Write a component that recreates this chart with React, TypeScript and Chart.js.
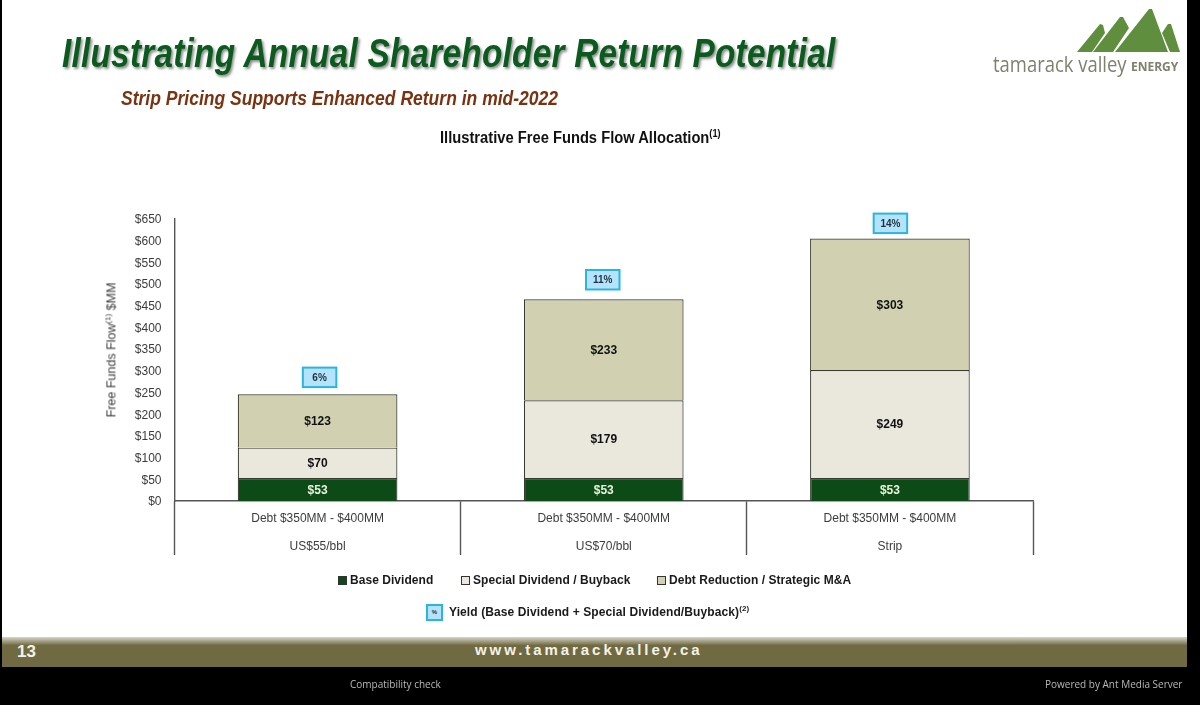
import React, { useEffect, useRef } from "react";
import { Chart, registerables } from "chart.js";

Chart.register(...registerables);

const debtLabel = "Debt $350MM - $400MM";
const categories = ["US$55/bbl", "US$70/bbl", "Strip"];
const baseDividend = [53, 53, 53];
const specialDividend = [70, 179, 249];
const debtReduction = [123, 233, 303];
const yields = ["6%", "11%", "14%"];
const yieldAnchor = [285, 510, 640];
const seriesNames = ["Base Dividend", "Special Dividend / Buyback", "Debt Reduction / Strategic M&A"];

const DARK = "#0c4a18";
const MID = "#eae8dc";
const LIGHT = "#d1d1b2";
const FONT = '"Liberation Sans", Arial, sans-serif';
const BOX_NUDGE = [2, -1, 0.5];

const overlayPlugin = {
  id: "overlay",
  afterDatasetsDraw(chart: any) {
    const { ctx } = chart;
    const yScale = chart.scales.y;
    ctx.save();
    ctx.textAlign = "center";
    ctx.textBaseline = "middle";
    chart.data.datasets.forEach((ds: any, di: number) => {
      const meta = chart.getDatasetMeta(di);
      meta.data.forEach((bar: any, i: number) => {
        const mid = (bar.y + bar.base) / 2 + 1;
        ctx.font = `bold 12px ${FONT}`;
        ctx.fillStyle = di === 0 ? "#eaf3dc" : "#111111";
        ctx.fillText(`$${ds.data[i]}`, bar.x, mid);
      });
    });
    const top = chart.getDatasetMeta(2);
    top.data.forEach((bar: any, i: number) => {
      const cy = yScale.getPixelForValue(yieldAnchor[i]);
      const cx = bar.x + BOX_NUDGE[i];
      const w = 33.5;
      const h = 19.5;
      ctx.fillStyle = "#b5e3fb";
      ctx.strokeStyle = "#2ab4e2";
      ctx.lineWidth = 2;
      ctx.fillRect(cx - w / 2, cy - h / 2, w, h);
      ctx.strokeRect(cx - w / 2, cy - h / 2, w, h);
      ctx.font = `bold 10px ${FONT}`;
      ctx.fillStyle = "#1b3340";
      ctx.fillText(yields[i], cx, cy + 0.5);
    });
    ctx.restore();
  },
};

const abs = (style: React.CSSProperties): React.CSSProperties => ({
  position: "absolute",
  whiteSpace: "nowrap",
  fontFamily: FONT,
  ...style,
});

function LegendItem({ color, left, label }: { color: string; left: number; label: string }) {
  return (
    <>
      <div style={abs({ left, top: 576, width: 7, height: 7, background: color, border: "1px solid #333" })} />
      <div style={abs({ left: left + 12, top: 573, fontSize: 12, fontWeight: 700, color: "#1a1a1a", letterSpacing: 0.05 })}>{label}</div>
    </>
  );
}

export default function App() {
  const ref = useRef<HTMLCanvasElement>(null);
  useEffect(() => {
    document.body.style.margin = "0";
    document.body.style.background = "#000";
    const chart = new Chart(ref.current!, {
      type: "bar",
      data: {
        labels: categories.map((c) => [debtLabel, c]),
        datasets: [
          { label: seriesNames[0], data: baseDividend, backgroundColor: DARK },
          { label: seriesNames[1], data: specialDividend, backgroundColor: MID },
          { label: seriesNames[2], data: debtReduction, backgroundColor: LIGHT },
        ].map((d) => ({
          ...d,
          borderColor: "#3a3a30",
          borderWidth: 1.2,
          categoryPercentage: 1,
          barPercentage: 0.558,
        })),
      },
      options: {
        responsive: false,
        animation: false,
        layout: { padding: { left: 0, top: 219, right: 167, bottom: 0 } },
        plugins: { legend: { display: false }, tooltip: { enabled: false }, title: { display: false } },
        scales: {
          x: {
            stacked: true,
            offset: true,
            border: { color: "#555555", width: 1.4 },
            grid: { display: true, offset: true, drawOnChartArea: false, drawTicks: true, tickLength: 54, tickColor: "#555555", tickWidth: 1.4 },
            ticks: {
              color: "#3c3c3c",
              font: { family: FONT, size: 12, lineHeight: 28 / 12 },
              padding: -50,
              maxRotation: 0,
              autoSkip: false,
            },
            afterFit: (s: any) => {
              s.height = 705 - 501;
            },
          },
          y: {
            stacked: true,
            min: 0,
            max: 650,
            border: { color: "#555555", width: 1.4 },
            grid: { display: false },
            ticks: {
              stepSize: 50,
              autoSkip: false,
              color: "#3c3c3c",
              font: { family: FONT, size: 12 },
              padding: 5,
              labelOffset: 1,
              callback: (v: any) => `$${v}`,
            },
            afterFit: (s: any) => {
              s.width = 174.5;
            },
          },
        },
      },
      plugins: [overlayPlugin],
    } as any);
    return () => chart.destroy();
  }, []);

  const squeeze = (k: number): React.CSSProperties => ({ transform: `scaleX(${k})`, transformOrigin: "left center" });

  return (
    <div style={{ position: "absolute", left: 0, top: 0, width: 1200, height: 705, background: "#000", overflow: "hidden" }}>
      <div style={{ position: "absolute", left: 2, top: 0, width: 1185, height: 667, background: "#fff" }} />
      <canvas ref={ref} width={1200} height={705} style={{ position: "absolute", left: 0, top: 0, display: "block" }} />

      <div style={abs({ left: 62, top: 31, fontSize: 40, fontWeight: 700, fontStyle: "italic", color: "#0b5a1e", textShadow: "2px 2px 3px rgba(0,0,0,0.45)", letterSpacing: 0.3, ...squeeze(0.833) })}>
        Illustrating Annual Shareholder Return Potential
      </div>
      <div style={abs({ left: 121, top: 87, fontSize: 20, fontWeight: 700, fontStyle: "italic", color: "#7a3210", ...squeeze(0.876) })}>
        Strip Pricing Supports Enhanced Return in mid-2022
      </div>
      <div style={abs({ left: 440, top: 128, fontSize: 16, fontWeight: 700, color: "#111", ...squeeze(0.92) })}>
        Illustrative Free Funds Flow Allocation<sup style={{ fontSize: 10 }}>(1)</sup>
      </div>

      <div style={abs({ left: 110.5, top: 349.5, fontSize: 12.5, color: "#3c3c3c", transform: "translate(-50%, -50%) rotate(-90deg)" })}>
        Free Funds Flow<sup style={{ fontSize: 8 }}>(1)</sup> $MM
      </div>

      <LegendItem color={DARK} left={338} label={seriesNames[0]} />
      <LegendItem color={MID} left={461} label={seriesNames[1]} />
      <LegendItem color={LIGHT} left={657} label={seriesNames[2]} />
      <div style={abs({ left: 426, top: 604, width: 13, height: 13, background: "#b5e3fb", border: "2px solid #2ab4e2", fontSize: 6, fontWeight: 700, textAlign: "center", lineHeight: "13px", color: "#1b3340" })}>%</div>
      <div style={abs({ left: 449, top: 604, fontSize: 12, fontWeight: 700, color: "#1a1a1a", letterSpacing: 0.1 })}>
        Yield (Base Dividend + Special Dividend/Buyback)<sup style={{ fontSize: 8 }}>(2)</sup>
      </div>

      <svg style={{ position: "absolute", left: 1070, top: 0 }} width={115} height={56} viewBox="1070 0 115 56">
        <polygon points="1077,52 1100,24 1103,25 1105,33 1092,52" fill="#5f8f3e" />
        <polygon points="1093,52 1120,17 1123,17 1129,28 1113,52" fill="#5f8f3e" />
        <polygon points="1115,52 1149,9 1152,9 1168,52" fill="#5f8f3e" />
        <polygon points="1162,33 1168,24 1171,24 1180,52 1170,52" fill="#5f8f3e" />
      </svg>
      <div style={abs({ left: 993, top: 50, fontSize: 21, color: "#7f816e", fontFamily: '"Open Sans", sans-serif', ...squeeze(0.878) })}>
        tamarack valley
      </div>
      <div style={abs({ left: 1131, top: 58, fontSize: 12, fontWeight: 700, color: "#7f816e", fontFamily: '"Open Sans", sans-serif' })}>
        ENERGY
      </div>

      <div style={{ position: "absolute", left: 2, top: 637, width: 1185, height: 30, background: "linear-gradient(#d8d6c8 0%, #706a42 28%, #706a42 100%)" }} />
      <div style={abs({ left: 17, top: 642, fontSize: 17, fontWeight: 700, color: "#f4f2e6" })}>13</div>
      <div style={abs({ left: 475, top: 641, fontSize: 15, fontWeight: 700, color: "#f4f2e6", letterSpacing: 2.93 })}>www.tamarackvalley.ca</div>

      <div style={abs({ left: 350, top: 677, fontSize: 10, color: "#b8b8b8", fontFamily: '"Open Sans", sans-serif' })}>Compatibility check</div>
      <div style={abs({ left: 1045, top: 677, fontSize: 10, color: "#b8b8b8", fontFamily: '"Open Sans", sans-serif' })}>Powered by Ant Media Server</div>
    </div>
  );
}
